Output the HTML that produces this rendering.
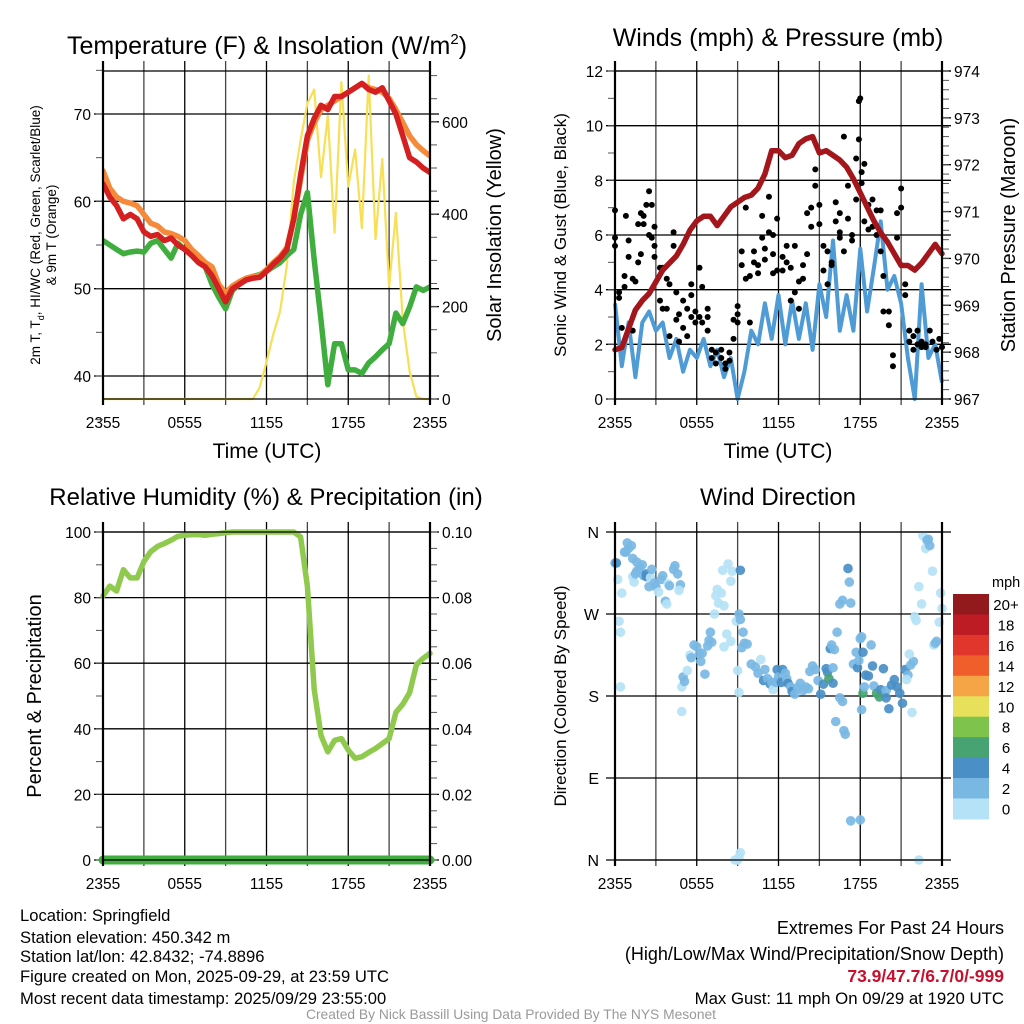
<!DOCTYPE html>
<html><head><meta charset="utf-8">
<style>
html,body{margin:0;padding:0;background:#fff;}
svg{display:block;font-family:"Liberation Sans",Arial,sans-serif;}
</style></head>
<body>
<svg id="c" width="1024" height="1024" viewBox="0 0 1024 1024" xmlns="http://www.w3.org/2000/svg"></svg>
<script>
// ---------- DATA ----------
const hoursHalf = []; for (let k = 0; k <= 48; k++) hoursHalf.push(k * 0.5);
const xTickLabels = ["2355","0555","1155","1755","2355"];
const tempRed = [62,60.5,59.5,58,58.5,58,56.5,56,56.2,55.5,55.8,55,54.5,53.8,53,52.5,51.5,50,48.5,50,50.5,51,51.2,51.3,52,52.8,53.5,54.5,58,63,67.5,69.5,71,70.5,72,72,72.5,73,73.5,72.8,72.5,73,71.5,70,67.5,65,64.5,63.8,63.3];
const tempOrange = [63.5,61.5,60.5,60,59.8,59.5,58.5,57.5,57.2,56.5,56.3,56,55.5,54.5,53.8,53,52.5,50.5,49.5,50.3,50.8,51.2,51.4,51.5,52.2,53,53.7,54.7,58,62.5,67,69,70.5,71,71.5,72,72.5,73,73.5,73,72.8,72.5,71.8,70.5,69,67.5,66.5,65.8,65.2];
const dewGreen = [55.5,55,54.5,54,54.2,54.3,54.2,55.2,55.5,54.5,53.5,55.2,54.5,54,53.7,52.5,50.5,49,47.7,49.8,50.5,51,51.4,51.6,52,52.5,53,53.8,54.5,58.5,61,53.3,46.4,39,43.7,43.7,40.7,40.7,40.3,41.5,42.2,43,43.7,47.2,46,47.9,50.2,49.8,50.2];
const solar = [0,0,0,0,0,0,0,0,0,0,0,0,0,0,0,0,0,0,0,0,0,0,0,25,80,140,190,290,470,560,640,670,480,613,360,686,460,540,370,700,346,520,243,403,170,60,5,0,0];
const tempTicks = [40,50,60,70];
const solarTicks = [0,200,400,600];

const pressure = [968.05,968.1,968.5,968.9,969.1,969.25,969.5,969.75,969.9,970.05,970.3,970.6,970.8,970.9,970.9,970.7,970.9,971.1,971.2,971.3,971.35,971.5,971.8,972.3,972.3,972.15,972.2,972.45,972.55,972.6,972.25,972.3,972.2,972.1,971.95,971.7,971.4,971.1,970.8,970.55,970.35,970.1,969.85,969.85,969.75,969.9,970.1,970.3,970.1];
const windSpeed = [3.5,1.2,2.8,0.8,2.8,3.2,2.5,2.8,1.5,2.2,1,1.8,1.5,2.2,1.2,1.8,0.8,1.5,0,1,2.5,2,3.5,2.2,3.8,2,3.6,2.2,3.5,1.8,4.2,3,5.8,2.5,3.8,2.5,5.5,3.2,4.8,6.5,4,4.5,3.5,1.5,0,4.2,1.5,2,0.6];
const gustHours = [0,0,0,0.3,0.3,0.5,0.7,0.7,0.8,1,1,1.3,1.3,1.5,1.7,1.7,1.9,1.9,2.1,2.1,2.3,2.5,2.5,2.7,2.7,2.9,2.9,2.9,3.3,3.3,3.5,3.5,3.8,3.8,4,4,4.3,4.3,4.5,4.5,4.7,4.7,5,5,5.3,5.3,5.6,5.6,5.6,5.9,5.9,6.2,6.2,6.4,6.4,6.8,6.8,6.8,7.1,7.1,7.4,7.4,7.8,7.8,8.1,8.1,8.4,8.4,8.7,8.7,9,9,9,9.3,9.3,9.6,9.6,9.9,9.9,10.2,10.2,10.5,10.5,10.8,10.8,11,11,11.3,11.3,11.6,11.6,11.6,11.9,11.9,12.3,12.3,12.6,12.6,12.9,12.9,13.2,13.2,13.5,13.5,13.8,13.8,14.1,14.1,14.4,14.4,14.7,14.7,15,15,15.3,15.3,15.6,15.6,15.9,15.9,16.2,16.2,16.5,16.5,16.5,16.8,16.8,17.1,17.1,17.4,17.4,17.7,17.7,17.9,17.9,18,18.1,18.1,18.3,18.3,18.6,18.6,18.9,18.9,19.2,19.2,19.5,19.5,19.7,19.7,20.1,20.1,20.4,20.4,20.7,20.7,21,21,21.3,21.3,21.6,21.6,21.9,21.9,22.2,22.2,22.5,22.5,22.8,22.8,23.1,23.3,23.6,23.8,24];
const gustValues = [5.6,6.9,5.9,3.9,3.7,2.6,4.5,4.1,6.7,5.8,5.2,4.4,2.5,4.3,6.4,5,6.8,5.3,6.7,6.4,7.1,7.6,6,7.1,5.9,6.3,5.6,5.2,4.8,3.6,3.3,4.8,3.3,4.4,2.3,4.2,6.1,5.6,3.9,2.9,2.1,3.1,3.6,2.6,2.3,3.3,3,3.8,4.2,3.2,2.8,4.8,3,4.1,2.8,3.3,2.5,3,1.8,1.5,1.3,1.7,1.8,1.5,1.1,1.3,1.4,1.7,2.2,2.9,2.8,3.4,3.1,4.9,5.4,4.4,7,2.8,4.5,5.4,5,4.6,4.9,6.7,5.9,5.5,5.1,6.1,7.4,6,5.3,4.6,4.7,6.6,4.7,5.2,5.6,5,4.8,3.6,5.6,3.9,4.3,3.3,4.4,4.9,6.8,5.3,6.3,7,7.8,8.4,7.1,6.4,5.6,4.7,4.2,5.4,4.9,5,7.2,6.5,6.1,5.9,6.8,9.6,5.4,7.8,6.6,5.8,6,8.8,7.3,9.5,10.9,11,8.3,7.9,8.6,6.5,7.1,6.2,7.3,6.3,6.9,6,5.4,6.9,4.5,3.2,3.2,2.7,1.6,1.2,6.8,5.9,7.7,7,4.2,3.8,2.5,2.1,1.8,2.3,2,2.5,1.9,2.1,2,1.9,2.5,2.1,1.8,2.2,1.9];
const windTicks = [0,2,4,6,8,10,12];
const pressTicks = [967,968,969,970,971,972,973,974];

const rhValues = [80.5,83.5,82,88.5,86,86,91,94,95.6,96.5,97.5,98.7,99,99.2,99.2,99,99.3,99.5,99.8,100,100,100,100,100,100,100,100,100,100,98.5,83.4,52,38,33,36.5,37,33.5,31,31.5,32.8,34,35.5,37,45,47.5,51,59.5,61.5,63];
const precipValues = [0,0,0,0,0,0,0,0,0,0,0,0,0,0,0,0,0,0,0,0,0,0,0,0,0,0,0,0,0,0,0,0,0,0,0,0,0,0,0,0,0,0,0,0,0,0,0,0,0];
const rhTicks = [0,20,40,60,80,100];
const precipTicks = ["0.00","0.02","0.04","0.06","0.08","0.10"];

const dirHours = [0,0.1,0.2,0.5,0.3,0.4,0.4,0.8,0.9,1,0.7,1.2,1.3,1.3,1.4,1.5,1.6,1.6,1.8,2,2.1,2.3,2.3,2.5,2.6,2.7,2.9,3,3.2,3.4,3.5,3.7,3.8,3.9,4,4.3,4.4,4.6,4.8,4.7,4.9,4.9,5,5.1,5.3,5.5,5.6,5.8,6,6.2,6.3,6.4,6.6,6.8,6.9,7,7.1,7.3,7.4,7.5,7.6,7.8,7.9,8,8.2,8.5,8.3,8,8.6,8.5,8.9,9.1,9.2,9.3,9.4,9.5,9.7,9,9.1,9.2,8.8,9,9.1,9.2,10,10.3,10.5,10.7,10.9,11,11.2,11.4,11.5,11.6,11.8,11.9,12,12.2,12.3,12.5,12.6,12.7,12.9,13,13.2,13.4,13.6,13.8,14,14.2,14.3,14.5,14.7,14.9,15.1,15.3,15.5,15.6,15.8,15.9,15.7,16,16.1,16.3,16,16.5,16.7,16.2,16.8,16.9,16.7,16.5,17.1,17.2,17.3,17.5,17.7,17.8,17.9,18,18.1,18.2,17.3,18,18.1,18.2,18.3,18.4,18.6,18.8,18.9,19,19.2,19.4,19.5,19.7,19.9,19.9,20.1,20.3,20.5,20.7,20.9,21.1,21.3,21.5,21.7,21.9,21.4,21.6,21.8,22,22.1,22.3,22.5,22.6,22.8,22.9,23,23.1,23.3,23.4,23.5,23.6,23.8,24,23.9,22.3];
const dirDegrees = [326,326,308,293,262,250,190,338,348,342,338,345,331,311,305,314,327,317,321,324,312,314,311,300,310,319,304,300,294,308,312,284,281,303,301,319,323,314,302,296,163,190,201,196,208,225,222,236,234,226,218,227,204,235,241,250,239,270,290,297,282,293,318,279,248,306,325,234,317,240,262,270,264,233,250,238,237,208,184,8,0,0,3,318,215,212,205,220,197,209,199,193,195,187,195,209,201,195,209,205,199,194,190,185,182,189,194,186,190,188,207,213,209,197,182,193,210,206,232,236,199,194,231,250,211,178,174,152,142,138,285,281,320,305,282,215,228,211,219,243,245,228,43,44,165,183,190,203,202,236,213,191,183,179,187,210,186,178,166,192,198,190,183,172,209,203,214,218,198,226,162,267,263,300,281,356,342,351,352,345,317,236,238,240,261,276,293,0];
const dirSpeeds = [3,4,1,1,1,1,1,3,3,3,3,3,3,1,1,3,3,3,3,3,3,4,4,3,1,3,3,3,1,3,3,3,1,1,3,3,3,3,3,1,1,1,3,3,1,1,3,3,3,3,3,3,3,3,3,3,3,1,1,1,1,1,1,1,1,1,1,1,1,1,1,3,3,3,3,3,3,1,1,1,1,1,1,4,3,3,3,1,4,3,3,4,3,1,3,4,3,4,4,3,3,4,3,4,3,3,3,3,3,3,3,3,3,3,4,4,4,4,4,3,6,4,3,3,3,3,3,3,3,3,3,3,4,3,3,3,3,4,3,3,3,4,3,3,3,6,3,4,4,3,4,3,6,6,4,4,3,4,4,4,4,4,4,4,4,3,3,3,1,1,1,1,1,1,1,1,1,3,3,3,1,1,3,3,1,1,1,1];
const dirTickLabels = ["N","E","S","W","N"];
const speedBinLabels = ["0","2","4","6","8","10","12","14","16","18","20+"];
const speedBinColors = ["#b5e2f6","#7ab8e4","#4a8fc6","#47a472","#7ec34c","#e6e05a","#f6a546","#f05f2b","#e0362b","#bd1c24","#931a1c"];

// ---------- HELPERS ----------
const svg = document.getElementById('c');
const NS = 'http://www.w3.org/2000/svg';
function mk(tag, attrs, parent) {
  const e = document.createElementNS(NS, tag);
  for (const k in attrs) e.setAttribute(k, attrs[k]);
  (parent || svg).appendChild(e);
  return e;
}
function txt(s, x, y, size, anchor, parent, extra) {
  const t = mk('text', Object.assign({x: x, y: y, 'font-size': size, 'text-anchor': anchor || 'middle', fill: '#000'}, extra || {}), parent);
  t.textContent = s;
  return t;
}
function lin(d0, d1, r0, r1) { return v => r0 + (v - d0) / (d1 - d0) * (r1 - r0); }
function pathFrom(xs, ys, fx, fy) {
  let d = '';
  for (let i = 0; i < xs.length; i++) d += (i ? 'L' : 'M') + fx(xs[i]).toFixed(1) + ',' + fy(ys[i]).toFixed(1);
  return d;
}

function frame(L, R, T, B, name) {
  const g = mk('g', {});
  
  
  const fx = lin(0, 24, L, R);
  for (let h = 0; h <= 24; h += 3) {
    const x = fx(h);
    const gl = mk('line', {x1: x, x2: x, y1: T - 10, y2: B + 6, stroke: (h % 6 === 0) ? '#000' : '#444', 'stroke-width': 1.3}, g);
    
    
  }
  for (let i = 0; i < 5; i++) {
    const lab = txt(xTickLabels[i], fx(i * 6), B + 29, 15.5, 'middle', g);
    
    
  }
  return {g: g, fx: fx};
}
function hgrid(g, L, R, y) {
  mk('line', {x1: L - 9, x2: R + 9, y1: y, y2: y, stroke: '#000', 'stroke-width': 1.3}, g);
}
function border(g, L, R, T, B) {
  mk('line', {x1: L, x2: L, y1: T - 10, y2: B + 6, stroke: '#000', 'stroke-width': 2.2}, g);
  mk('line', {x1: R, x2: R, y1: T - 10, y2: B + 6, stroke: '#000', 'stroke-width': 2.2}, g);
  mk('line', {x1: L, x2: R, y1: T, y2: T, stroke: '#000', 'stroke-width': 1.3}, g);
  mk('line', {x1: L, x2: R, y1: B, y2: B, stroke: '#000', 'stroke-width': 1.3}, g);
}
function minorTicks(g, x, y0, y1, n, dir) {
  for (let i = 0; i <= n; i++) {
    const y = y0 + (y1 - y0) * i / n;
    mk('line', {x1: x, x2: x + dir * 7, y1: y, y2: y, stroke: '#555', 'stroke-width': 1}, g);
  }
}

// ---------- PANEL 1 : Temperature ----------
(function () {
  const L = 103, R = 430, T = 71, B = 399;
  const f = frame(L, R, T, B, 'temperature-panel');
  const g = f.g, fx = f.fx;
  const fy = lin(40, 70, 376, 114);
  const fs = lin(0, 600, 399, 121.8);
  tempTicks.forEach(v => {
    hgrid(g, L, R, fy(v));
    const t = txt(String(v), L - 12, fy(v) + 6, 15.5, 'end', g);
    
    
  });
  minorTicks(g, L, fy(75), fy(35), 8, -1);
  solarTicks.forEach(v => {
    mk('line', {x1: R, x2: R + 9, y1: fs(v), y2: fs(v), stroke: '#000', 'stroke-width': 1.3}, g);
    const t = txt(String(v), R + 12, fs(v) + 6, 15.5, 'start', g);
    
    
  });
  minorTicks(g, R, fs(0), fs(700), 14, 1);
  const series = [
    [solar, '#f7df56', 2.2, fs, 'solar-insolation-line'],
    [dewGreen, '#3fae3f', 5.5, fy, 'dewpoint-line'],
    [tempOrange, '#f58a3a', 5.5, fy, 'temp-9m-line'],
    [tempRed, '#d42020', 5.5, fy, 'temp-2m-line']
  ];
  const clip = mk('clipPath', {id: 'clip1'});
  mk('rect', {x: L, y: T - 2, width: R - L, height: B - T + 4}, clip);
  series.forEach(s => {
    const p = mk('path', {d: pathFrom(hoursHalf, s[0], fx, s[3]), fill: 'none', stroke: s[1], 'stroke-width': s[2], 'stroke-linejoin': 'round', 'stroke-linecap': 'round', 'clip-path': 'url(#clip1)'}, g);
    
    
  });
  border(g, L, R, T, B);
  const tt = txt('', 267, 54, 25, 'middle', g);
  tt.innerHTML = 'Temperature (F) &amp; Insolation (W/m<tspan font-size="15" dy="-10">2</tspan><tspan dy="10">)</tspan>';
  
  
  const xl = txt('Time (UTC)', 267, 458, 21, 'middle', g);
  
  
  const yl = txt('', 0, 0, 13.5, 'middle', g, {transform: 'translate(40,235) rotate(-90)'});
  yl.innerHTML = '2m T, T<tspan font-size="9" dy="4">d</tspan><tspan dy="-4">, HI/WC (Red, Green, Scarlet/Blue)</tspan>';
  
  
  const yl2 = txt('& 9m T (Orange)', 0, 0, 13.5, 'middle', g, {transform: 'translate(56,235) rotate(-90)'});
  
  
  const yr = txt('Solar Insolation (Yellow)', 0, 0, 20, 'middle', g, {transform: 'translate(501,235) rotate(-90)'});
  
  
})();

// ---------- PANEL 2 : Winds & Pressure ----------
(function () {
  const L = 615, R = 942, T = 71, B = 399;
  const f = frame(L, R, T, B, 'winds-panel');
  const g = f.g, fx = f.fx;
  const fy = lin(0, 12, B, T);
  const fp = lin(967, 974, B, T);
  windTicks.forEach(v => {
    hgrid(g, L, R, fy(v));
    const t = txt(String(v), L - 12, fy(v) + 6, 15.5, 'end', g);
    
    
  });
  minorTicks(g, L, fy(0), fy(12), 12, -1);
  pressTicks.forEach(v => {
    mk('line', {x1: R, x2: R + 9, y1: fp(v), y2: fp(v), stroke: '#000', 'stroke-width': 1.3}, g);
    const t = txt(String(v), R + 12, fp(v) + 6, 15.5, 'start', g);
    
    
  });
  minorTicks(g, R, fp(967), fp(974), 35, 1);
  const clip = mk('clipPath', {id: 'clip2'});
  mk('rect', {x: L - 3, y: T - 3, width: R - L + 6, height: B - T + 6}, clip);
  const wl = mk('path', {d: pathFrom(hoursHalf, windSpeed, fx, fy), fill: 'none', stroke: '#4f9bd5', 'stroke-width': 4, 'stroke-linejoin': 'round', 'clip-path': 'url(#clip2)'}, g);
  
  
  for (let i = 0; i < gustHours.length; i++) {
    const c = mk('circle', {cx: fx(gustHours[i]), cy: fy(gustValues[i]), r: 3, fill: '#000'}, g);
    
    
  }
  const pl = mk('path', {d: pathFrom(hoursHalf, pressure, fx, fp), fill: 'none', stroke: '#a3161b', 'stroke-width': 5.5, 'stroke-linejoin': 'round', 'stroke-linecap': 'round'}, g);
  
  
  border(g, L, R, T, B);
  const tt = txt('Winds (mph) & Pressure (mb)', 778, 46, 25, 'middle', g);
  
  
  const xl = txt('Time (UTC)', 778, 458, 21, 'middle', g);
  
  
  const yl = txt('Sonic Wind & Gust (Blue, Black)', 0, 0, 17, 'middle', g, {transform: 'translate(566,235) rotate(-90)'});
  
  
  const yr = txt('Station Pressure (Maroon)', 0, 0, 20, 'middle', g, {transform: 'translate(1015,235) rotate(-90)'});
  
  
})();

// ---------- PANEL 3 : RH & Precip ----------
(function () {
  const L = 103, R = 430, T = 532, B = 860;
  const f = frame(L, R, T, B, 'humidity-panel');
  const g = f.g, fx = f.fx;
  const fy = lin(0, 100, B, T);
  const fpr = lin(0, 0.1, B, T);
  rhTicks.forEach(v => {
    hgrid(g, L, R, fy(v));
    const t = txt(String(v), L - 12, fy(v) + 6, 15.5, 'end', g);
    
    
  });
  minorTicks(g, L, B, T, 10, -1);
  precipTicks.forEach((s, i) => {
    const y = fpr(i * 0.02);
    const t = txt(s, R + 12, y + 6, 15.5, 'start', g);
    
    
  });
  minorTicks(g, R, B, T, 20, 1);
  const rl = mk('path', {d: pathFrom(hoursHalf, rhValues, fx, fy), fill: 'none', stroke: '#8fca4e', 'stroke-width': 5.5, 'stroke-linejoin': 'round', 'stroke-linecap': 'round'}, g);
  
  
  const pl = mk('path', {d: pathFrom(hoursHalf, precipValues, fx, fpr), fill: 'none', stroke: '#3fae3f', 'stroke-width': 9, 'stroke-linecap': 'round'}, g);
  
  
  border(g, L, R, T, B);
  const tt = txt('Relative Humidity (%) & Precipitation (in)', 266, 505, 24, 'middle', g);
  
  
  const yl = txt('Percent & Precipitation', 0, 0, 20, 'middle', g, {transform: 'translate(41,696) rotate(-90)'});
  
  
})();

// ---------- PANEL 4 : Wind Direction ----------
(function () {
  const L = 615, R = 942, T = 532, B = 860;
  const f = frame(L, R, T, B, 'wind-direction-panel');
  const g = f.g, fx = f.fx;
  const fy = lin(0, 360, B, T);
  dirTickLabels.forEach((s, i) => {
    const y = fy(i * 90);
    hgrid(g, L, R, y);
    const t = txt(s, L - 16, y + 6, 16, 'end', g);
    
    
  });
  for (let i = 0; i < dirHours.length; i++) {
    const bin = Math.min(10, Math.floor(dirSpeeds[i] / 2));
    const c = mk('circle', {cx: fx(dirHours[i]), cy: fy(dirDegrees[i]), r: 4.8, fill: speedBinColors[bin], 'fill-opacity': 0.92}, g);
    
    
  }
  border(g, L, R, T, B);
  const tt = txt('Wind Direction', 778, 505, 24, 'middle', g);
  
  
  const yl = txt('Direction (Colored By Speed)', 0, 0, 17, 'middle', g, {transform: 'translate(566,696) rotate(-90)'});
  
  
  // colorbar
  const cb = mk('g', {});
  
  
  const top = 594, h = 20.45;
  const um = txt('mph', 992, 587, 14.5, 'start', cb);
  
  
  for (let i = 0; i < 11; i++) {
    const j = 10 - i;
    const r = mk('rect', {x: 953, y: top + i * h, width: 36, height: h + 0.5, fill: speedBinColors[j]}, cb);
    
    
    const t = txt(speedBinLabels[j], 1006, top + i * h + 16, 15, 'middle', cb);
    
    
  }
})();

// ---------- FOOTER TEXT ----------
(function () {
  const g = mk('g', {});
  
  
  const lines = ['Location: Springfield', 'Station elevation: 450.342 m', 'Station lat/lon: 42.8432; -74.8896', 'Figure created on Mon, 2025-09-29, at 23:59 UTC', 'Most recent data timestamp: 2025/09/29 23:55:00'];
  const ys = [921, 943, 962, 982, 1004];
  lines.forEach((s, i) => {
    const t = txt(s, 20, ys[i], 16.6, 'start', g);
    
    
  });
  const g2 = mk('g', {});
  
  
  const a = txt('Extremes For Past 24 Hours', 1004, 934, 18, 'end', g2);
  
  
  const b = txt('(High/Low/Max Wind/Precipitation/Snow Depth)', 1004, 960, 18, 'end', g2);
  
  
  const c = txt('73.9/47.7/6.7/0/-999', 1004, 982, 17.5, 'end', g2, {fill: '#c8102e', 'font-weight': 'bold'});
  
  
  const d = txt('Max Gust: 11 mph On 09/29 at 1920 UTC', 1004, 1004, 16.8, 'end', g2);
  
  
  const e = txt('Created By Nick Bassill Using Data Provided By The NYS Mesonet', 511, 1019, 13.8, 'middle', svg, {fill: '#999'});
  
  
})();
</script>
</body></html>
